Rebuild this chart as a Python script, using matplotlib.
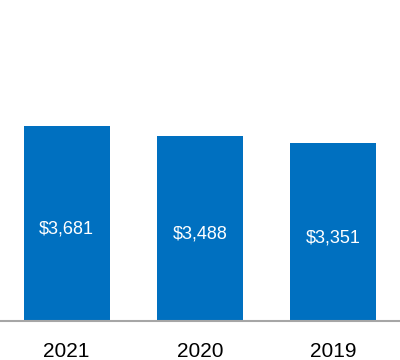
import matplotlib.pyplot as plt

years = ["2021", "2020", "2019"]
values = [3681, 3488, 3351]
value_labels = ["$3,681", "$3,488", "$3,351"]

plt.rcParams['font.family'] = ['Liberation Sans', 'DejaVu Sans']

fig = plt.figure(figsize=(4, 3.6), dpi=100)
ax = fig.add_axes([0, 39 / 360, 1, 321 / 360])

bars = ax.bar(range(len(years)), values, width=0.645, color='#0070C0')

for b, lab in zip(bars, value_labels):
    ax.annotate(lab, (b.get_x() + b.get_width() / 2, b.get_height() / 2),
                xytext=(0, -4), textcoords='offset points',
                ha='center', va='center', color='white', fontsize=13)

ax.set_xlim(-0.5, 2.5)
ax.set_ylim(0, 6058)
ax.set_yticks([])
ax.set_xticks(range(len(years)))
ax.set_xticklabels(years, fontsize=15)
ax.tick_params(axis='x', length=0, pad=15)
for s in ['top', 'right', 'left']:
    ax.spines[s].set_visible(False)
ax.spines['bottom'].set_color('#a6a6a6')
ax.spines['bottom'].set_linewidth(1.5)

fig.savefig("out.png", dpi=100)
